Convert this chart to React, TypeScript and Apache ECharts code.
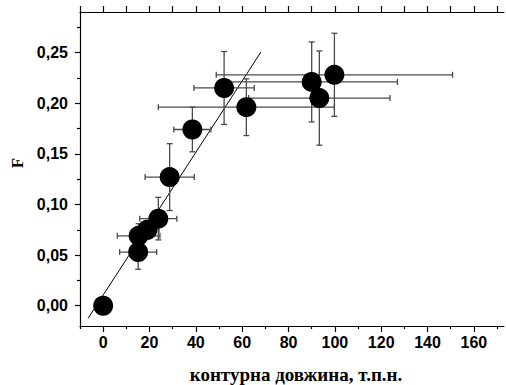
import React, { useEffect, useRef } from "react";
import * as echarts from "echarts";

// ---- data ----
const X_VALS = [0, 15.1, 15.3, 19.1, 23.8, 28.7, 38.5, 52.2, 61.8, 90.0, 93.3, 99.8];
const Y_VALS = [0.0, 0.053, 0.069, 0.075, 0.086, 0.127, 0.174, 0.215, 0.196, 0.221, 0.205, 0.228];
const X_ERR = [0, 8, 9.2, 5, 8, 10.6, 8, 13, 38, 37, 30.5, 51];
const Y_ERR = [0, 0.017, 0.012, 0.009, 0.021, 0.033, 0.022, 0.036, 0.028, 0.0395, 0.0465, 0.041];

// linear fit drawn in the reference
const FIT_SLOPE = 0.003524;
const FIT_INTERCEPT = 0.0105;
const FIT_X_RANGE = [-6.5, 68.1];

// ticks
const X_MAJOR = [0, 20, 40, 60, 80, 100, 120, 140, 160];
const X_MINOR = [-10, 10, 30, 50, 70, 90, 110, 130, 150, 170];
const X_TOP = [-10, 0, 10, 20, 30, 40, 50, 60, 70, 80, 90, 100, 110, 120, 130, 140, 150, 160, 170];
const Y_MAJOR = [0, 0.05, 0.1, 0.15, 0.2, 0.25];
const Y_MINOR = [0.025, 0.075, 0.125, 0.175, 0.225, 0.275];

const X_TITLE = "контурна довжина, т.п.н.";
const Y_TITLE = "F";

export default function App() {
  const ref = useRef<HTMLDivElement>(null);

  useEffect(() => {
    if (!ref.current) return;
    const chart = echarts.init(ref.current, null, { renderer: "svg" });

    const points = X_VALS.map((x, i) => [x, Y_VALS[i]]);
    const errData = X_VALS.map((x, i) => [x, Y_VALS[i], X_ERR[i], Y_ERR[i]]);
    const fitData = FIT_X_RANGE.map((x) => [x, FIT_INTERCEPT + FIT_SLOPE * x]);

    const labelFont = {
      fontFamily: "Arial, 'Liberation Sans', sans-serif",
      fontWeight: 700,
      fontSize: 16,
      color: "#000",
    };
    const serif = "'Times New Roman', 'Liberation Serif', serif";
    const axisRange = { min: -10, max: 173 };
    const yRange = { min: -0.02, max: 0.29 };
    const lineStyle = { color: "#000", width: 1.2 };

    const errColor = "#4a4a4a";
    const cap = 3;

    chart.setOption({
      animation: false,
      backgroundColor: "#fff",
      grid: { left: 80, right: 2, top: 12, bottom: 59 },
      xAxis: [
        {
          type: "value",
          position: "bottom",
          ...axisRange,
          axisLine: { show: true, onZero: false, lineStyle },
          axisTick: { show: true, customValues: X_MAJOR, length: 6, lineStyle },
          axisLabel: { show: true, customValues: X_MAJOR, margin: 8, ...labelFont },
          splitLine: { show: false },
        },
        {
          type: "value",
          position: "bottom",
          ...axisRange,
          axisLine: { show: false, onZero: false },
          axisTick: { show: true, customValues: X_MINOR, length: 3, lineStyle },
          axisLabel: { show: false },
          splitLine: { show: false },
        },
        {
          type: "value",
          position: "top",
          ...axisRange,
          axisLine: { show: true, onZero: false, lineStyle },
          axisTick: { show: true, customValues: X_TOP, length: 6, lineStyle },
          axisLabel: { show: false },
          splitLine: { show: false },
        },
      ],
      yAxis: [
        {
          type: "value",
          position: "left",
          ...yRange,
          axisLine: { show: true, onZero: false, lineStyle },
          axisTick: { show: true, customValues: Y_MAJOR, length: 5, lineStyle },
          axisLabel: {
            show: true,
            customValues: Y_MAJOR,
            margin: 12,
            ...labelFont,
            formatter: (v: number) => v.toFixed(2).replace(".", ","),
          },
          splitLine: { show: false },
        },
        {
          type: "value",
          position: "left",
          ...yRange,
          axisLine: { show: false, onZero: false },
          axisTick: { show: true, customValues: Y_MINOR, length: 3, lineStyle },
          axisLabel: { show: false },
          splitLine: { show: false },
        },
      ],
      series: [
        {
          type: "line",
          xAxisIndex: 0,
          yAxisIndex: 0,
          data: fitData,
          symbol: "none",
          lineStyle: { color: "#000", width: 1 },
          z: 2,
        },
        {
          type: "custom",
          xAxisIndex: 0,
          yAxisIndex: 0,
          data: errData,
          z: 3,
          renderItem: (params: any, api: any) => {
            const x = api.value(0);
            const y = api.value(1);
            const ex = api.value(2);
            const ey = api.value(3);
            const children: any[] = [];
            const style = { stroke: errColor, lineWidth: 1.3 };
            if (ex > 0) {
              const l = api.coord([x - ex, y]);
              const r = api.coord([x + ex, y]);
              children.push({ type: "line", shape: { x1: l[0], y1: l[1], x2: r[0], y2: r[1] }, style });
              children.push({ type: "line", shape: { x1: l[0], y1: l[1] - cap, x2: l[0], y2: l[1] + cap }, style });
              children.push({ type: "line", shape: { x1: r[0], y1: r[1] - cap, x2: r[0], y2: r[1] + cap }, style });
            }
            if (ey > 0) {
              const t = api.coord([x, y + ey]);
              const b = api.coord([x, y - ey]);
              children.push({ type: "line", shape: { x1: t[0], y1: t[1], x2: b[0], y2: b[1] }, style });
              children.push({ type: "line", shape: { x1: t[0] - cap, y1: t[1], x2: t[0] + cap, y2: t[1] }, style });
              children.push({ type: "line", shape: { x1: b[0] - cap, y1: b[1], x2: b[0] + cap, y2: b[1] }, style });
            }
            return { type: "group", children };
          },
        },
        {
          type: "scatter",
          xAxisIndex: 0,
          yAxisIndex: 0,
          data: points,
          symbol: "circle",
          symbolSize: 20,
          itemStyle: { color: "#000", opacity: 1 },
          z: 4,
        },
      ],
      graphic: [
        {
          type: "text",
          x: 296,
          y: 374,
          style: {
            text: X_TITLE,
            fontFamily: serif,
            fontWeight: 700,
            fontSize: 19,
            fill: "#000",
            align: "center",
            verticalAlign: "middle",
          },
        },
        {
          type: "text",
          x: 17,
          y: 163,
          rotation: Math.PI / 2,
          style: {
            text: Y_TITLE,
            fontFamily: serif,
            fontWeight: 700,
            fontSize: 17,
            fill: "#000",
            align: "center",
            verticalAlign: "middle",
          },
        },
      ],
    });

    return () => chart.dispose();
  }, []);

  return (
    <div
      ref={ref}
      style={{ position: "fixed", left: 0, top: 0, width: 506, height: 385, background: "#fff" }}
    />
  );
}
